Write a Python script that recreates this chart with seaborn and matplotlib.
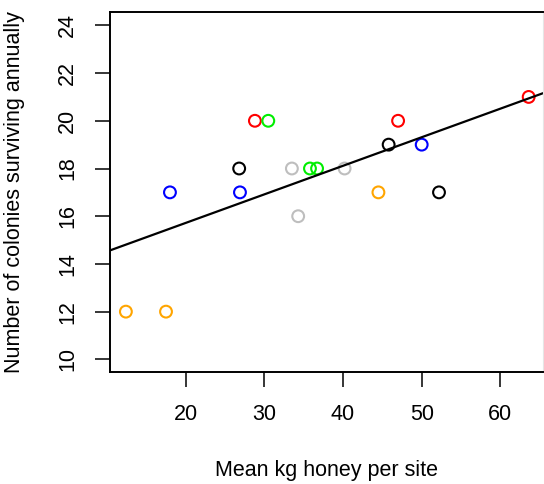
import matplotlib
matplotlib.use("Agg")
import matplotlib.pyplot as plt
import seaborn as sns
import pandas as pd

# Honey yield and colony survival, three years per site
honey_kg = [28.8, 47.0, 63.6,
            30.5, 35.8, 36.7,
            18.0, 26.9, 50.0,
            26.8, 45.8, 52.2,
            33.5, 40.2, 34.3,
            44.5, 12.4, 17.5]
colonies = [20, 20, 21,
            20, 18, 18,
            17, 17, 19,
            18, 19, 17,
            18, 18, 16,
            17, 12, 12]
site = ["A"] * 3 + ["B"] * 3 + ["C"] * 3 + ["D"] * 3 + ["E"] * 3 + ["F"] * 3
site_colors = {"A": "#FF0000", "B": "#00EE00", "C": "#0000FF",
               "D": "#000000", "E": "#BEBEBE", "F": "#FFA500"}

x_ticks = [20, 30, 40, 50, 60]
y_ticks = [10, 12, 14, 16, 18, 20, 22, 24]

df = pd.DataFrame({"honey": honey_kg, "colonies": colonies, "site": site})

sns.set_style("white")
plt.rcParams["font.family"] = ["Liberation Sans", "DejaVu Sans"]
plt.rcParams["text.color"] = "black"
plt.rcParams["axes.labelcolor"] = "black"
plt.rcParams["xtick.color"] = "black"
plt.rcParams["ytick.color"] = "black"

fig = plt.figure(figsize=(5.44, 4.84), dpi=100)
ax = fig.add_axes([110 / 544, 1 - 372 / 484, 433 / 544, 360 / 484])
ax.set_xlim(10.38, 65.42)
ax.set_ylim(9.47, 24.56)

sns.scatterplot(data=df, x="honey", y="colonies", hue="site",
                palette=site_colors, marker="o", s=72,
                facecolors="none", linewidth=1.5, legend=False, ax=ax)
# open circles: edge colours from the site palette
coll = ax.collections[0]
coll.set_edgecolors([site_colors[s] for s in site])
coll.set_facecolors("none")

sns.regplot(data=df, x="honey", y="colonies", scatter=False, ci=None,
            truncate=False, color="black", line_kws={"linewidth": 1.6}, ax=ax)
ax.set_xlim(10.38, 65.42)
ax.set_ylim(9.47, 24.56)

ax.set_xticks(x_ticks)
ax.set_yticks(y_ticks)
ax.set_xticklabels([str(v) for v in x_ticks], fontsize=15.5)
ax.set_yticklabels([str(v) for v in y_ticks], fontsize=15.5,
                   rotation=90, va="center")
ax.tick_params(axis="both", direction="out", length=11, width=1.1,
               color="black", labelcolor="black", bottom=True, left=True)
ax.tick_params(axis="x", pad=12)
ax.tick_params(axis="y", pad=12)

for side in ["left", "top", "bottom"]:
    ax.spines[side].set_color("black")
    ax.spines[side].set_linewidth(1.4)
ax.spines["right"].set_color("#E6E6E6")
ax.spines["right"].set_linewidth(0.8)

ax.set_xlabel("Mean kg honey per site", fontsize=15.5, color="black")
ax.set_ylabel("Number of colonies surviving annually", fontsize=15.5,
              color="black")
ax.xaxis.set_label_coords(0.5, -(460 - 372) / 360)
ax.yaxis.set_label_coords((25 - 110) / 433, 0.5)

fig.savefig("out.png", dpi=100)
